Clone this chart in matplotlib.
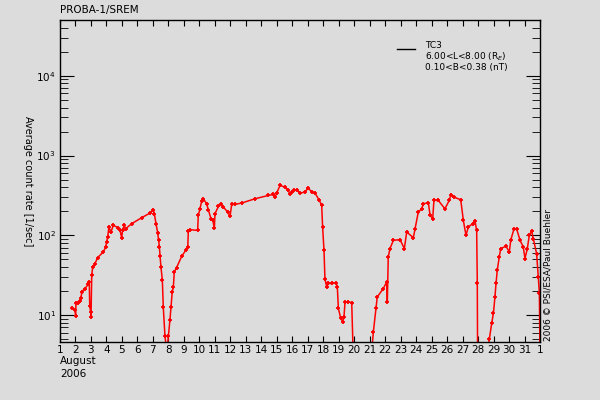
import numpy as np
import matplotlib
matplotlib.use("Agg")
import matplotlib.pyplot as plt
from matplotlib.ticker import LogLocator, FixedLocator, NullFormatter

# ===== Data (day of August 2006, average count rate) =====
days = [
    1.80, 1.97, 2.01, 2.03, 2.18, 2.29, 2.36, 2.40, 2.61, 2.83, 2.89, 2.92, 2.98, 3.00,
    3.05, 3.11, 3.26, 3.43, 3.80, 3.95, 4.01, 4.08, 4.16, 4.29, 4.44, 4.77, 4.88, 4.98,
    5.05, 5.15, 5.24, 5.63, 6.27, 6.81, 7.03, 7.09, 7.20, 7.31, 7.37, 7.42, 7.46, 7.52,
    7.61, 7.67, 7.78, 7.85, 7.95, 8.00, 8.10, 8.17, 8.25, 8.32, 8.38, 8.53, 8.86, 9.12,
    9.25, 9.29, 9.40, 9.89, 9.93, 10.04, 10.15, 10.26, 10.47, 10.58, 10.75, 10.86, 10.97,
    11.01, 11.23, 11.38, 11.55, 11.83, 11.98, 12.09, 12.30, 12.73, 13.59, 14.45, 14.78,
    14.89, 14.99, 15.21, 15.53, 15.75, 15.85, 16.00, 16.13, 16.29, 16.50, 16.82, 17.04,
    17.25, 17.47, 17.75, 17.90, 17.96, 18.05, 18.11, 18.22, 18.33, 18.55, 18.83, 18.91,
    18.98, 19.13, 19.26, 19.34, 19.41, 19.62, 19.84, 19.94, 21.10, 21.24, 21.41, 21.49,
    21.88, 22.10, 22.14, 22.20, 22.31, 22.53, 22.96, 23.24, 23.39, 23.82, 23.93, 24.14,
    24.36, 24.47, 24.79, 24.90, 25.07, 25.15, 25.43, 25.86, 26.14, 26.23, 26.45, 26.88,
    27.05, 27.22, 27.37, 27.65, 27.80, 27.91, 27.95, 27.97, 28.56, 28.73, 28.88, 28.99,
    29.09, 29.16, 29.24, 29.37, 29.46, 29.80, 30.02, 30.11, 30.32, 30.49, 30.71, 30.92,
    31.03, 31.18, 31.31, 31.46, 31.57, 31.78, 31.89, 31.96, 32.00,
]
rate = [
    12.1, 11.5, 9.7, 14.0, 14.3, 15.1, 16.2, 19.6, 21.5, 24.4, 26.1, 13.0, 11.0, 9.4,
    31.6, 40.2, 44.2, 52.6, 61.9, 71.5, 82.5, 95.3, 127, 110, 133, 125, 115, 93.5,
    118, 133, 121, 140, 166, 190, 209, 187, 140, 107, 86.6, 71.5, 55.7, 40.2,
    27.4, 12.7, 5.4, 4.2, 4.3, 5.4, 8.7, 12.7, 19.6, 22.2, 34.8, 39.4, 54.6, 64.9,
    71.5, 113, 118, 115, 178, 215, 269, 287, 249, 209, 162, 157, 124,
    187, 230, 244, 226, 196, 173, 244, 244, 254, 287, 316, 325,
    301, 338, 422, 402, 365, 325, 348, 365, 372, 338, 348, 394,
    348, 338, 274, 237, 127, 64.9, 28.7, 22.6, 24.9, 24.9, 25.4, 22.6,
    12.1, 9.1, 8.3, 9.5, 14.7, 14.7, 14.3, 3.0, 3.0, 6.2, 12.1, 16.9,
    21.5, 26.1, 14.7, 53.6, 68.1, 86.6, 88.3, 68.1, 110, 93.5, 121, 196,
    215, 249, 256, 178, 162, 274, 274, 215, 274, 316, 301, 279,
    154, 100, 127, 140, 151, 115, 25.4, 3.0, 3.0, 5.0, 7.9, 10.5,
    16.9, 24.9, 36.5, 53.6, 68.1, 73.0, 61.9, 86.6, 121, 121, 86.6, 71.5,
    51.1, 68.1, 100, 113, 90.8, 59.0, 30.1, 18.7, 3.0,
]

x_ticks = list(range(1, 33))
x_labels = [str(d) for d in range(1, 32)] + ["1"]
y_ticks = [10, 100, 1000, 10000]
y_labels = [r"$10^{1}$", r"$10^{2}$", r"$10^{3}$", r"$10^{4}$"]

bg = "#dcdcdc"

# ===== Figure =====
fig = plt.figure(figsize=(6, 4), dpi=100, facecolor=bg)
ax = fig.add_axes([0.1, 0.145, 0.8, 0.805], facecolor=bg)

ax.plot(days, rate, color="red", lw=1.1, marker="+", ms=3.5, mew=1.3)

ax.set_yscale("log")
ax.set_xlim(1, 32)
ax.set_ylim(4.6, 5e4)

ax.xaxis.set_major_locator(FixedLocator(x_ticks))
ax.set_xticklabels(x_labels)
ax.yaxis.set_major_locator(FixedLocator(y_ticks))
ax.set_yticklabels(y_labels)
ax.yaxis.set_minor_locator(LogLocator(base=10, subs=np.arange(2, 10)))
ax.yaxis.set_minor_formatter(NullFormatter())

ax.tick_params(axis="x", which="major", direction="in", length=4, top=True,
               labelsize=7.5, pad=2)
ax.tick_params(axis="y", which="major", direction="in", length=10, right=True,
               labelsize=7.5, pad=3)
ax.tick_params(axis="y", which="minor", direction="in", length=6, right=True)
for sp in ax.spines.values():
    sp.set_linewidth(1.0)

# ===== Texts =====
fig.text(0.1, 0.975, "PROBA-1/SREM", fontsize=7.5, va="center", ha="left")
fig.text(0.1, 0.098, "August", fontsize=7.5, va="center", ha="left")
fig.text(0.1, 0.066, "2006", fontsize=7.5, va="center", ha="left")
fig.text(0.047, 0.5475, "Average count rate [1/sec]", fontsize=7,
         rotation=270, va="center", ha="center")
fig.text(0.913, 0.3125, "2006 \u00a9 PSI/ESA/Paul Buehler", fontsize=6.5,
         rotation=90, va="center", ha="center")

# legend
ax.plot([0.702, 0.740], [0.910, 0.910], color="black", lw=1,
        transform=ax.transAxes)
ax.text(0.760, 0.921, "TC3", fontsize=6.5, transform=ax.transAxes, va="center")
ax.text(0.760, 0.887, r"6.00<L<8.00 (R$_E$)", fontsize=6.5,
        transform=ax.transAxes, va="center")
ax.text(0.760, 0.852, "0.10<B<0.38 (nT)", fontsize=6.5,
        transform=ax.transAxes, va="center")

fig.savefig("out.png", dpi=100, facecolor=bg)
